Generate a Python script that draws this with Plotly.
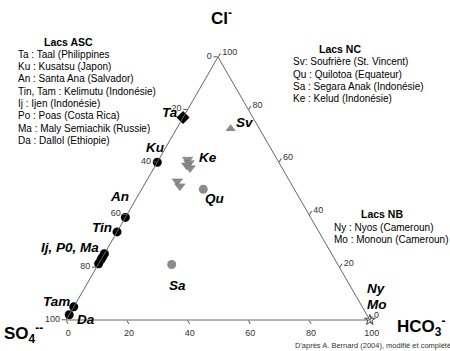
import plotly.graph_objects as go

# ---- data (Cl, SO4, HCO3 in %) ----
asc_cl   = [60, 39, 33.5, 25.2, 23.9, 22.9, 21.4, 5, 2]
asc_so4  = [40, 61, 66.5, 74.8, 76.1, 77.1, 78.6, 95, 98]
asc_hco3 = [0, 0, 0, 0, 0, 0, 0, 0, 0]

ta_cl, ta_so4, ta_hco3 = [77], [23], [0]

ke_cl   = [61, 59.7, 58.8, 57.8, 52.8, 50.9]
ke_so4  = [29.5, 29.7, 30.9, 30.3, 37.0, 37.1]
ke_hco3 = [9.5, 10.6, 10.3, 11.9, 10.2, 12.0]

sv_cl, sv_so4, sv_hco3 = [72.7], [9.5], [17.8]

nc_cl   = [49.7, 21.1]      # Qu, Sa
nc_so4  = [30.0, 54.7]
nc_hco3 = [20.3, 24.2]

nb_cl, nb_so4, nb_hco3 = [0], [0], [100]

tick_vals = [0, 20, 40, 60, 80, 100]
tick_text = ["100", "80", "60", "40", "20", "0"]

asc_title = "Lacs ASC"
asc_lines = ["Ta : Taal (Philippines", "Ku : Kusatsu (Japon)", "An : Santa Ana (Salvador)",
             "Tin, Tam : Kelimutu (Indonésie)", "Ij : Ijen (Indonésie)", "Po : Poas (Costa Rica)",
             "Ma : Maly Semiachik (Russie)", "Da : Dallol (Ethiopie)"]
nc_title = "Lacs NC"
nc_lines = ["Sv: Soufrière (St. Vincent)", "Qu : Quilotoa (Equateur)",
            "Sa : Segara Anak (Indonésie)", "Ke : Kelud (Indonésie)"]
nb_title = "Lacs NB"
nb_lines = ["Ny : Nyos (Cameroun)", "Mo : Monoun (Cameroun)"]

point_labels = ["Ta", "Ku", "An", "Tin", "Ij, P0, Ma", "Tam", "Da", "Sv", "Ke", "Qu", "Sa", "Ny", "Mo"]
label_pos = [(170, 112), (155, 147), (119.5, 196), (102, 227), (70, 247), (56, 301), (86, 319),
             (245, 123), (208, 157), (215, 198), (177, 285), (376, 288), (377, 304)]

W, H = 450, 351
FONT = "Liberation Sans, Arial, sans-serif"
GRAY = "#8c8c8c"

fig = go.Figure()
fig.add_trace(go.Scatterternary(a=asc_cl, b=asc_so4, c=asc_hco3, mode="markers",
                                marker=dict(symbol="circle", size=9, color="black"), cliponaxis=False))
fig.add_trace(go.Scatterternary(a=ta_cl, b=ta_so4, c=ta_hco3, mode="markers",
                                marker=dict(symbol="diamond", size=10, color="black"), cliponaxis=False))
fig.add_trace(go.Scatterternary(a=ke_cl, b=ke_so4, c=ke_hco3, mode="markers",
                                marker=dict(symbol="triangle-down", size=9, color=GRAY,
                                            line=dict(color="#6a6a6a", width=0.5)), cliponaxis=False))
fig.add_trace(go.Scatterternary(a=sv_cl, b=sv_so4, c=sv_hco3, mode="markers",
                                marker=dict(symbol="triangle-up", size=9, color=GRAY), cliponaxis=False))
fig.add_trace(go.Scatterternary(a=nc_cl, b=nc_so4, c=nc_hco3, mode="markers",
                                marker=dict(symbol="circle", size=9, color=GRAY), cliponaxis=False))
fig.add_trace(go.Scatterternary(a=nb_cl, b=nb_so4, c=nb_hco3, mode="markers",
                                marker=dict(symbol="star-open", size=8, color="#444", line=dict(width=1)),
                                cliponaxis=False))

axis_common = dict(tickmode="array", tickvals=tick_vals, ticktext=tick_text, ticks="outside",
                   ticklen=4, tickcolor="#555", linecolor="#666", linewidth=1, showgrid=False,
                   showline=True, tickfont=dict(family=FONT, size=9, color="#333"), title=dict(text=""),
                   min=0)

fig.update_layout(
    width=W, height=H, margin=dict(l=0, r=0, t=0, b=0),
    paper_bgcolor="white", showlegend=False,
    ternary=dict(sum=100, bgcolor="white",
                 domain=dict(x=[66 / W, 370 / W], y=[31 / H, 294 / H]),
                 aaxis=axis_common, baxis=axis_common, caxis=axis_common),
)

def px(x, y):
    return x / W, 1 - y / H

anns = []
def add(text, x, y, xanchor="center", size=10, bold=False, italic=False, color="black"):
    if bold:
        text = "<b>" + text + "</b>"
    if italic:
        text = "<i>" + text + "</i>"
    X, Y = px(x, y)
    anns.append(dict(text=text, x=X, y=Y, xref="paper", yref="paper", xanchor=xanchor,
                     yanchor="middle", showarrow=False, font=dict(family=FONT, size=size, color=color)))

add(asc_title, 68, 42, size=10.5, bold=True)
for i, t in enumerate(asc_lines):
    add(t, 16, 54 + i * 12.4, xanchor="left")
add(nc_title, 340, 49, size=10.5, bold=True)
for i, t in enumerate(nc_lines):
    add(t, 291, 62 + i * 12.2, xanchor="left")
add(nb_title, 382, 214, size=10.5, bold=True)
for i, t in enumerate(nb_lines):
    add(t, 332, 227 + i * 12.8, xanchor="left")

for t, (x, y) in zip(point_labels, label_pos):
    add(t, x, y, size=13.5, bold=True, italic=True)

add("Cl<sup>-</sup>", 221, 17, size=17, bold=True)
add("SO<sub>4</sub><sup>--</sup>", 2, 333, xanchor="left", size=17, bold=True)
add("HCO<sub>3</sub><sup>-</sup>", 395, 326, xanchor="left", size=17, bold=True)
add("D'après A. Bernard (2004), modifié et complété", 373, 345, size=7.5, color="#333")

fig.update_layout(annotations=anns)
fig.write_html("out.html")
